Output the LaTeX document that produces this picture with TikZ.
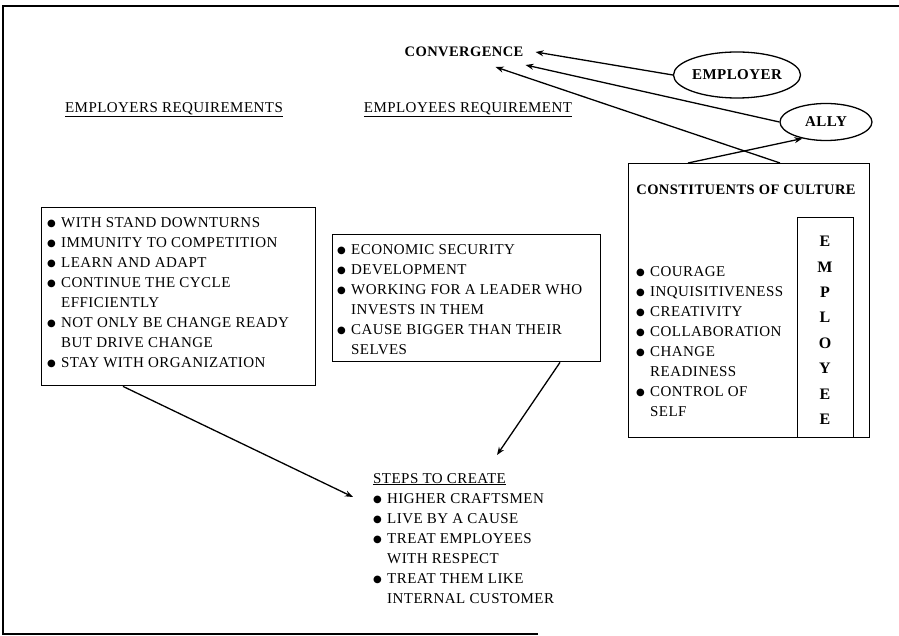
\documentclass[tikz,border=0pt]{standalone}
\usepackage{fontspec}
\setmainfont{Liberation Serif}[LetterSpace=3]
\newfontfamily\symf{DejaVu Sans}
\usetikzlibrary{shapes.geometric,arrows.meta,calc}
\newcommand\bul{\makebox[14pt][l]{\raisebox{0.2pt}{\symf\fontsize{10}{10}\selectfont ●}}}
\newcommand\itm[1]{\bul#1}
\newcommand\cnt[1]{\hspace*{14pt}#1}
\begin{document}
\begin{tikzpicture}[x=1pt,y=-1pt,
  font=\fontsize{15}{20}\selectfont,
  boxst/.style={draw, line width=1.4pt, inner sep=0pt, anchor=north west},
  lst/.style={align=left, inner sep=0pt, anchor=north west},
  oval/.style={draw, ellipse, line width=1.3pt, inner sep=0pt, font=\fontsize{15}{20}\selectfont\bfseries},
  hdr/.style={inner sep=0pt},
  arr/.style={line width=1.3pt, -{Stealth[length=8pt,width=6pt]}}
]
\useasboundingbox (0,0) rectangle (899,636);
% frame
\draw[line width=1.5pt] (538,634) -- (3,634) -- (3,6) -- (899,6);

% headings
\node[hdr, font=\fontsize{14.5}{20}\selectfont\bfseries] (conv) at (464,52) {CONVERGENCE};
\node[hdr] (h1) at (174,110) {\underline{EMPLOYERS REQUIREMENTS}};
\node[hdr] (h2) at (468,110) {\underline{EMPLOYEES REQUIREMENT}};

% ellipses
\node[oval, minimum width=114pt, minimum height=46pt] (employer) at (737,75) {EMPLOYER};
\node[oval, minimum width=92pt, minimum height=37pt] (ally) at (826,122) {ALLY};

% left box
\node[boxst, minimum width=274pt, minimum height=178pt] (lbox) at (41,207) {};
\node[lst] (ltext) at (47,217) {\itm{WITH STAND DOWNTURNS}\\
\itm{IMMUNITY TO COMPETITION}\\
\itm{LEARN AND ADAPT}\\
\itm{CONTINUE THE CYCLE}\\
\cnt{EFFICIENTLY}\\
\itm{NOT ONLY BE CHANGE READY}\\
\cnt{BUT DRIVE CHANGE}\\
\itm{STAY WITH ORGANIZATION}};

% middle box
\node[boxst, minimum width=268pt, minimum height=127pt] (mbox) at (332,234) {};
\node[lst] (mtext) at (337,244) {\itm{ECONOMIC SECURITY}\\
\itm{DEVELOPMENT}\\
\itm{WORKING FOR A LEADER WHO}\\
\cnt{INVESTS IN THEM}\\
\itm{CAUSE BIGGER THAN THEIR}\\
\cnt{SELVES}};

% culture box
\node[boxst, minimum width=241pt, minimum height=274pt] (cbox) at (628,163) {};
\node[hdr, font=\fontsize{14.5}{20}\selectfont\bfseries] (ctitle) at (746,190) {CONSTITUENTS OF CULTURE};
\node[boxst, minimum width=56pt, minimum height=220pt] (ebox) at (797,217) {};
\node[inner sep=0pt, anchor=north, align=center, font=\fontsize{16}{25.4}\selectfont\bfseries] (eword) at (825,236) {E\\M\\P\\L\\O\\Y\\E\\E};
\node[lst] (ctext) at (636,266) {\itm{COURAGE}\\
\itm{INQUISITIVENESS}\\
\itm{CREATIVITY}\\
\itm{COLLABORATION}\\
\itm{CHANGE}\\
\cnt{READINESS}\\
\itm{CONTROL OF}\\
\cnt{SELF}};

% steps
\node[lst] (steps) at (373,473) {\underline{STEPS TO CREATE}\\
\itm{HIGHER CRAFTSMEN}\\
\itm{LIVE BY A CAUSE}\\
\itm{TREAT EMPLOYEES}\\
\cnt{WITH RESPECT}\\
\itm{TREAT THEM LIKE}\\
\cnt{INTERNAL CUSTOMER}};

% arrows
\draw[arr] (employer.west) -- ([xshift=12pt]conv.east);
\draw[arr] (ally.west) -- ([shift={(2,13)}]conv.east);
\draw[arr] ($(cbox.north west)+(152,0)$) -- ([shift={(-28,15)}]conv.east);
\draw[arr] ($(cbox.north west)+(60,0)$) -- (ally.215);
\draw[arr] ($(lbox.south west)+(82,0)$) -- ([shift={(-20,24)}]steps.north west);
\draw[arr] ($(mbox.south west)+(228,0)$) -- ([shift={(124,-18)}]steps.north west);
\end{tikzpicture}
\end{document}
